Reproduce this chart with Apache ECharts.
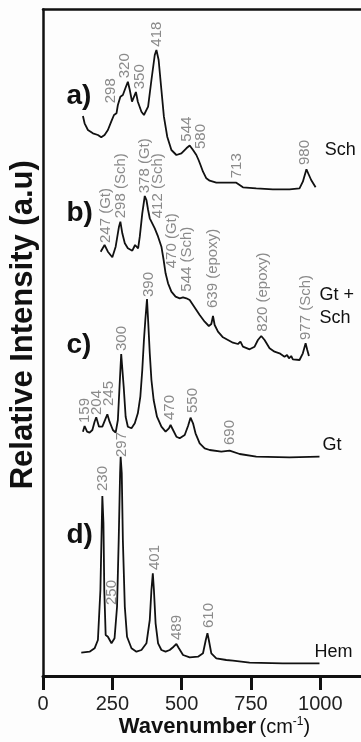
<!DOCTYPE html>
<html>
<head>
<meta charset="utf-8">
<script src="https://cdn.jsdelivr.net/npm/echarts@6/dist/echarts.min.js"></script>
<style>
html,body{margin:0;padding:0;background:#fdfdfd;}
#chart{width:361px;height:742px;}
</style>
</head>
<body>
<div id="chart"></div>
<script>
// ---- data (wavenumber in cm-1, stacked relative intensity in a.u.) ----
const schWn  = [144,150,162,180,198,210,222,234,246,256,265,270,279,288,297,306,313,321,335,342,355,364,379,391,403,409,417,427,436,448,463,481,499,517,529,541,553,561,568,577,589,601,625,661,697,709,721,769,829,889,925,937,950,959,967,983];
const schInt = [560,552.7,546,542.7,541,538.7,541,546,554.3,561,562.7,571,579.3,581,587.7,594.3,586,574.3,584,574.3,564.3,561,569.3,596,621,626,616,586,559.3,539.3,526,521,522.7,527.7,530.5,526,521,516,511,504.3,497.7,495.3,493.3,493.3,493.3,491,488.7,487.7,486.7,486.7,487.7,494.3,506.7,501,496,488.7];

const gtSchWn  = [208,222,234,250,262,274,279,286,295,306,322,332,337,343,349,358,367,373,379,385,394,403,415,427,435,442,451,463,478,493,505,517,529,541,553,565,583,598,607,613,619,631,649,667,685,703,712,721,745,763,775,787,799,817,835,853,871,880,887,895,901,925,937,947,953,959];
const gtSchInt = [424.3,431,424.3,418.7,429.3,449.3,454.3,442.7,432.7,427.7,425.3,431,432.7,427.7,439.3,462.7,480,476,466,457.7,452.7,447.7,439.3,429.3,416,402.7,392.7,384.3,379.3,377.7,378.7,377.7,376,371,366,361,354.3,350,352,360,351,344.3,338.7,336,333.3,332,334.3,329.3,326.7,329.3,336,340,336,327.7,324.3,322.7,319.3,321,317.7,320,316.7,316,322.7,332.7,326,320];

const gtWn  = [144,150,159,168,178,186,192,202,214,226,232,240,252,262,270,276,282,291,298,306,319,331,342,351,358,364,369,375,379,385,391,399,411,427,442,454,460,469,481,493,511,523,532,541,550,565,583,601,643,673,709,769,889,997];
const gtInt = [244.3,250,244.3,243.3,246,254.3,258.7,249.3,249.3,257.7,261.7,254.3,246,243.3,256,289.3,322,289.3,259.3,249.3,247.7,252.7,262.7,279.3,306,336,356,377,356,322.7,296,276,259.3,249.3,244.3,247.7,251,246,239.3,237.7,241,250,258.3,252.7,242.7,232.7,227.7,226,224.3,225.3,222,219.3,218.7,219.3];

const hemWn  = [138,168,186,198,207,212,214,218,221,226,234,247,258,267,273,278,280,284,288,295,303,319,337,355,373,385,391,396,400,406,415,427,442,457,471,481,490,505,529,559,577,587,593,598,607,625,661,685,745,865,997];
const hemInt = [23.3,24.3,27.7,36,86,152.7,180,152.7,86,41,39.3,32.7,37.7,69.3,136,202.7,219.3,202.7,136,69.3,39.3,27.7,24.3,26,32.7,56,86,102.7,86,52.7,32.7,26,24.3,26,29.3,32,27.7,21,18.7,19.3,22.7,36,42.7,36,22.7,17.7,16,15.3,13.3,12.7,12.7];

// peak annotations: text, wavenumber and intensity where each label starts
const schPeakText = ['298','320','350','418','544','580','713','980'];
const schPeakWn   = [244,294.5,348.6,408.8,520.5,571,699.4,943.4];
const schPeakInt  = [572.7,597.7,586.7,629.3,534.3,527,497.7,511];

const gtSchPeakText = ['247 (Gt)','298 (Sch)','378 (Gt)','412 (Sch)','470 (Gt)','544 (Sch)','639 (epoxy)','820 (epoxy)','977 (Sch)'];
const gtSchPeakWn   = [226,280,366.6,414.6,462.9,517,612.8,793,947];
const gtSchPeakInt  = [433,457.7,482.7,457.7,407.7,384.3,368,344.3,336];

const gtPeakText = ['159','204','245','300','390','470','550','690'];
const gtPeakWn   = [150.3,192.5,238,286,382,459,540.7,673];
const gtPeakInt  = [253,261,270,325,379,256,263,231];

const hemPeakText = ['230','250','297','401','489','610'];
const hemPeakWn   = [216.3,246.6,282.6,402.7,483,597.3];
const hemPeakInt  = [185,71,219,106,36,48];

// sample names and panel letters
const sampleText = ['Sch','Gt +\nSch','Gt','Hem'];
const sampleWn   = [1016,997,1008,979.4];
const sampleInt  = [526,369.5,231,24.3];

const panelText = ['a)','b)','c)','d)'];
const panelWn   = [84.4,84.4,84.4,84.4];
const panelInt  = [579.3,462.7,331,141];

const xTicks = [0,250,500,750,1000];

// ---- chart ----
const FONT = '"Liberation Sans", Arial, Helvetica, sans-serif';
const zip = (a,b) => a.map((v,i) => [v,b[i]]);

function curve(name, wn, val){
  return {type:'line', name, data: zip(wn,val), showSymbol:false, symbol:'none', silent:true,
    lineStyle:{color:'#111', width:1.8, opacity:1}, z:3};
}
function labels(text, wn, val, lbl){
  return {type:'scatter', silent:true, symbol:'circle', symbolSize:1, z:4,
    itemStyle:{color:'rgba(0,0,0,0)', opacity:1},
    data: text.map((t,i) => ({name:t, value:[wn[i], val[i]]})),
    label: Object.assign({show:true, formatter:'{b}', position:'inside', fontFamily:FONT, opacity:1}, lbl)};
}
const peakLbl = {rotate:90, align:'left', verticalAlign:'middle', color:'#8a8a8a', fontSize:15};

const chart = echarts.init(document.getElementById('chart'), null, {renderer:'canvas'});
chart.setOption({
  animation:false,
  backgroundColor:'#fdfdfd',
  grid:{left:43, top:9.5, width:330, height:666.5, show:false, outerBoundsMode:'none', containLabel:false},
  xAxis:[{
    type:'value', min:0, max:1190, interval:250,
    axisLine:{lineStyle:{color:'#111', width:3}},
    axisTick:{length:14, customValues:xTicks, lineStyle:{color:'#111', width:3}},
    axisLabel:{fontSize:20, color:'#222', margin:18, fontFamily:FONT, customValues:xTicks,
      formatter: v => String(v)},
    splitLine:{show:false},
    name:'{b|Wavenumber} {n|(cm}{s|-1}{n|)}',
    nameLocation:'middle', nameGap:40, nameMoveOverlap:false,
    nameTextStyle:{padding:[0,0,0,13], fontFamily:FONT, rich:{
      b:{fontSize:22, fontWeight:'bold', color:'#111', fontFamily:FONT},
      n:{fontSize:20, color:'#111', fontFamily:FONT},
      s:{fontSize:12, color:'#111', verticalAlign:'top', fontFamily:FONT}
    }}
  },{
    type:'value', position:'top', min:0, max:1190,
    axisLine:{show:true, lineStyle:{color:'#111', width:2.5}},
    axisTick:{show:false}, axisLabel:{show:false}, splitLine:{show:false}
  }],
  yAxis:{
    type:'value', min:0, max:666.5,
    axisLine:{show:true, lineStyle:{color:'#111', width:2.5}},
    axisTick:{show:false}, axisLabel:{show:false}, splitLine:{show:false},
    name:'Relative Intensity (a.u)', nameLocation:'middle', nameGap:4, nameMoveOverlap:false,
    nameTextStyle:{fontSize:31, fontWeight:'bold', color:'#111', fontFamily:FONT, padding:[0,0,0,36]}
  },
  series:[
    curve('Sch', schWn, schInt),
    curve('Gt + Sch', gtSchWn, gtSchInt),
    curve('Gt', gtWn, gtInt),
    curve('Hem', hemWn, hemInt),
    labels(schPeakText, schPeakWn, schPeakInt, peakLbl),
    labels(gtSchPeakText, gtSchPeakWn, gtSchPeakInt, peakLbl),
    labels(gtPeakText, gtPeakWn, gtPeakInt, peakLbl),
    labels(hemPeakText, hemPeakWn, hemPeakInt, peakLbl),
    labels(sampleText, sampleWn, sampleInt, {align:'left', verticalAlign:'middle', color:'#111', fontSize:18, lineHeight:23}),
    labels(panelText, panelWn, panelInt, {align:'left', verticalAlign:'middle', color:'#111', fontSize:28, fontWeight:'bold'})
  ]
});
</script>
</body>
</html>
